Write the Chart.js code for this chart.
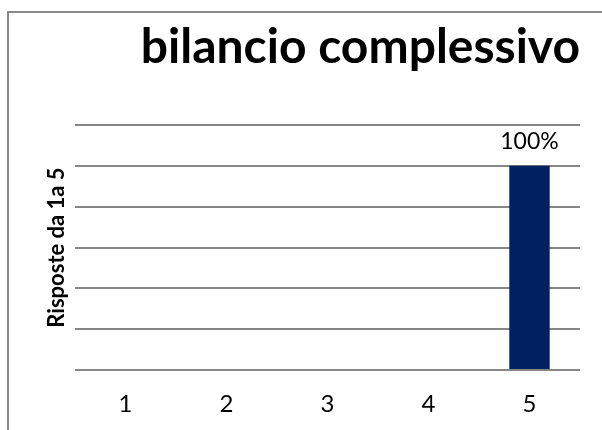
<!DOCTYPE html>
<html>
<head>
<meta charset="utf-8">
<script src="https://cdn.jsdelivr.net/npm/chart.js@4.4.1/dist/chart.umd.min.js"></script>
<style>
    body { margin: 0; background: #fff; overflow: hidden; }
    #wrap { position: relative; width: 602px; height: 430px; overflow: hidden; }
    #frame { position: absolute; left: 7px; top: 11px; width: 800px; height: 600px; border: 2px solid #888888; }
    #myChart { position: absolute; left: 0; top: 0; }
</style>
</head>
<body>
<div id="wrap">
    <div id="frame"></div>
    <canvas id="myChart" width="602" height="430"></canvas>
</div>
<script>
const chartTitle = 'bilancio complessivo'
const yTitle = 'Risposte da 1a 5'
const categories = ['1', '2', '3', '4', '5']
const risposte = [0, 0, 0, 0, 1]

// etichette percentuali sopra le barre
const labelPlugin = {
    id: 'barLabels',
    afterDatasetsDraw(chart) {
        const c = chart.ctx
        const meta = chart.getDatasetMeta(0)
        c.save()
        c.font = '23px Lato'
        c.fillStyle = '#000000'
        c.textAlign = 'center'
        c.textBaseline = 'alphabetic'
        meta.data.forEach((bar, i) => {
            const v = risposte[i]
            if (!v) return
            c.fillText(Math.round(v * 100) + '%', bar.x, bar.y - 17)
        })
        c.restore()
    }
}

const ctx = document.getElementById('myChart').getContext('2d')
const myChart = new Chart(ctx, {
    type: 'bar',
    data: {
        labels: categories,
        datasets: [
            {
                label: chartTitle,
                data: risposte,
                backgroundColor: '#002060',
                borderWidth: 0,
                categoryPercentage: 1,
                barPercentage: 0.4
            }
        ]
    },
    plugins: [labelPlugin],
    options: {
        responsive: false,
        animation: false,
        layout: { padding: { left: 0, right: 22, top: 0, bottom: 0 } },
        scales: {
            x: {
                grid: { display: false, drawTicks: false },
                border: { display: false },
                ticks: { color: '#000000', font: { family: 'Lato', size: 24 }, padding: 20 },
                afterFit: (s) => { s.height = 60 }
            },
            y: {
                min: 0,
                max: 1.2,
                ticks: { stepSize: 0.2, display: false },
                grid: { color: '#868686', lineWidth: 2, drawTicks: false },
                border: { display: false },
                title: {
                    display: true,
                    text: yTitle,
                    color: '#000000',
                    font: { family: 'Lato', size: 22, weight: 'bold' },
                    padding: { top: 44, bottom: 0 }
                },
                afterFit: (s) => { s.width = 75 }
            }
        },
        plugins: {
            legend: { display: false },
            tooltip: { enabled: false },
            title: {
                display: true,
                text: chartTitle,
                align: 'end',
                color: '#000000',
                font: { family: 'Lato', size: 48, weight: 'bold', lineHeight: 1.2 },
                padding: { top: 19, bottom: 48.4 }
            }
        }
    }
})
</script>
</body>
</html>
